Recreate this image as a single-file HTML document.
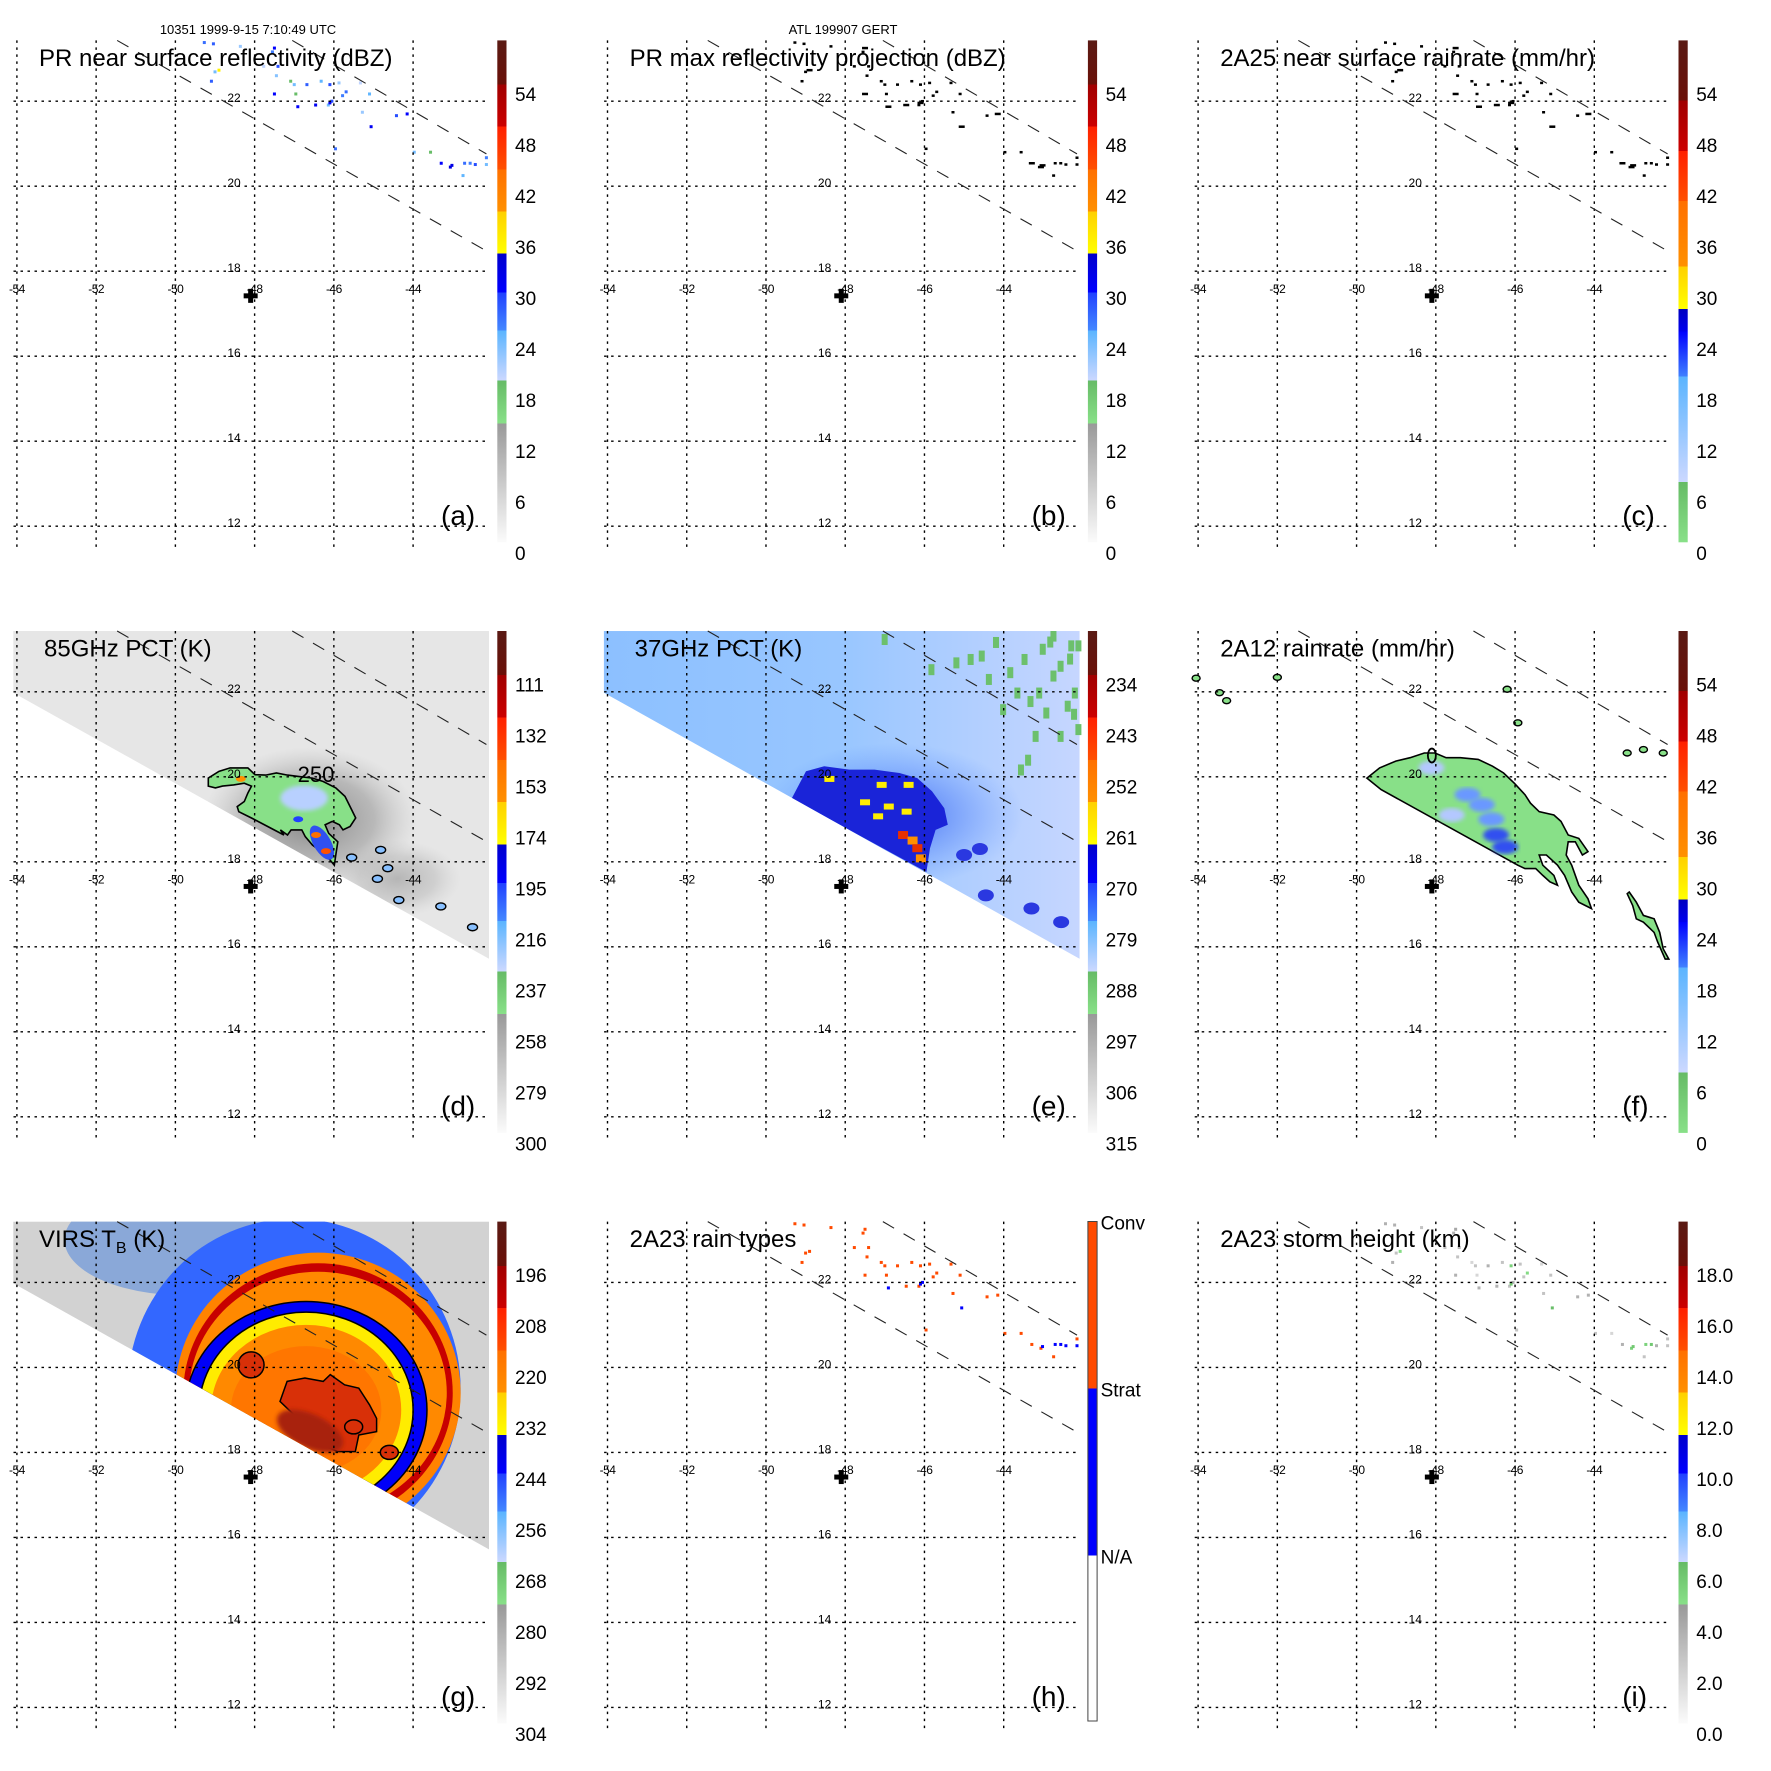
<!DOCTYPE html>
<html><head><meta charset="utf-8">
<style>
html,body{margin:0;padding:0;background:#fff;}
svg{display:block;}
text{font-family:"Liberation Sans",Arial,sans-serif;fill:#000;}
</style></head>
<body>
<svg id="fig" width="1771" height="1771" viewBox="0 0 1771 1771" xmlns="http://www.w3.org/2000/svg">
<defs>
<linearGradient id="cm1" x1="0" y1="1" x2="0" y2="0">
<stop offset="0" stop-color="#fbfbfb"/><stop offset="0.237" stop-color="#999"/>
<stop offset="0.237" stop-color="#88e088"/><stop offset="0.322" stop-color="#66bb66"/>
<stop offset="0.322" stop-color="#ccd8ff"/><stop offset="0.422" stop-color="#5ab4ff"/>
<stop offset="0.422" stop-color="#4488ff"/><stop offset="0.498" stop-color="#2040ff"/>
<stop offset="0.498" stop-color="#0000ff"/><stop offset="0.575" stop-color="#0000cc"/>
<stop offset="0.575" stop-color="#ffff00"/><stop offset="0.659" stop-color="#ffd000"/>
<stop offset="0.659" stop-color="#ff9000"/><stop offset="0.743" stop-color="#ff7000"/>
<stop offset="0.743" stop-color="#ff5000"/><stop offset="0.828" stop-color="#ff2000"/>
<stop offset="0.828" stop-color="#cc0000"/><stop offset="0.912" stop-color="#a00000"/>
<stop offset="0.912" stop-color="#6a1008"/><stop offset="1" stop-color="#5a1a14"/>
</linearGradient>
<linearGradient id="cm2" x1="0" y1="1" x2="0" y2="0">
<stop offset="0" stop-color="#88e088"/><stop offset="0.12" stop-color="#66bb66"/>
<stop offset="0.12" stop-color="#ccd8ff"/><stop offset="0.33" stop-color="#5ab4ff"/>
<stop offset="0.33" stop-color="#4080ff"/><stop offset="0.42" stop-color="#0000ff"/>
<stop offset="0.42" stop-color="#0000ee"/><stop offset="0.465" stop-color="#0000c0"/>
<stop offset="0.465" stop-color="#ffff00"/><stop offset="0.55" stop-color="#ffd000"/>
<stop offset="0.55" stop-color="#ff9000"/><stop offset="0.68" stop-color="#ff7000"/>
<stop offset="0.68" stop-color="#ff5000"/><stop offset="0.78" stop-color="#ff2000"/>
<stop offset="0.78" stop-color="#cc0000"/><stop offset="0.88" stop-color="#a00000"/>
<stop offset="0.88" stop-color="#6a1008"/><stop offset="1" stop-color="#5a1a14"/>
</linearGradient>
<linearGradient id="eback" x1="0" y1="0" x2="1" y2="0">
<stop offset="0" stop-color="#8cc0ff"/><stop offset="0.5" stop-color="#98c6ff"/><stop offset="1" stop-color="#c6d6ff"/>
</linearGradient>
<radialGradient id="dshade"><stop offset="0" stop-color="#7a7a7a" stop-opacity="0.9"/><stop offset="0.6" stop-color="#9a9a9a" stop-opacity="0.6"/><stop offset="1" stop-color="#bbb" stop-opacity="0"/></radialGradient>
<radialGradient id="ering"><stop offset="0" stop-color="#3a60f0" stop-opacity="0.9"/><stop offset="1" stop-color="#5a90ff" stop-opacity="0"/></radialGradient>
<filter id="blur2"><feGaussianBlur stdDeviation="2"/></filter>
</defs>
</svg>
<script>
// ---------- data ----------
const gridLons=[-54,-52,-50,-48,-46,-44];
const gridLats=[22,20,18,16,14,12];
const swath1Lon=[-47.05,-42.15], swath1Lat=[23.43,20.76];
const swath2Lon=[-51.47,-42.10], swath2Lat=[23.43,18.45];
const centerLon=-48.10, centerLat=17.42;
// PR echoes
const echoLon=[-49.27,-49.04,-48.36,-47.50,-47.55,-49.0,-49.09,-48.9,-47.77,-47.41,-47.45,-47.09,-47.0,-46.68,-46.32,-46.1,-45.87,-47.5,-46.96,-45.78,-45.69,-46.14,-46.46,-45.33,-45.1,-45.28,-44.42,-44.15,-45.96,-43.97,-43.56,-43.29,-43.06,-42.74,-42.15,-46.05,-46.1,-46.91,-45.06,-43.02,-42.7,-42.56,-42.43,-42.15];
const echoLat=[23.38,23.35,23.29,23.25,23.16,22.69,22.47,22.73,22.82,22.82,22.6,22.47,22.39,22.39,22.47,22.39,22.43,22.17,22.17,22.13,22.22,21.91,21.91,22.43,22.17,21.74,21.66,21.7,20.88,20.8,20.8,20.54,20.45,20.25,20.67,22.0,21.96,21.87,21.4,20.49,20.54,20.54,20.51,20.51];
const echoDbz=[27,28,22,30,26,24,28,36,20,29,23,19,24,28,25,29,22,30,19,26,27,24,31,20,25,22,29,30,27,24,19,30,33,25,26,29,31,30,31,32,27,26,29,24];
const echoType=['C','C','C','C','C','C','C','C','C','C','C','C','C','C','C','C','C','C','C','C','C','C','C','C','C','C','C','C','C','C','C','C','C','C','C','S','S','S','S','S','S','S','S','S'];
const echoHeight=[4,4,3,4.5,4,3,4,5.5,3,4,3,2,3,4,3,6,3,4,2,3,5.5,3,4,2,3,3,4,4,3,3,2,4,6,3,3,4,6.5,4,7,6.5,6,6.5,4,3];
// swath edge of passive microwave / VIRS image
const edgeLon=[-54.09,-42.03], edgeLat=[21.98,15.69];
const topLat=23.43;
// 85 GHz storm outline
const d85Lon=[-49.17,-48.90,-48.62,-48.17,-47.99,-47.72,-47.45,-47.17,-46.90,-46.54,-46.27,-45.95,-45.72,-45.59,-45.45,-45.59,-45.77,-45.86,-46.04,-46.22,-46.13,-45.90,-45.95,-45.99,-46.13,-46.31,-46.54,-46.72,-46.81,-47.08,-47.17,-47.35,-47.26,-48.08,-48.40,-48.44,-48.26,-48.17,-48.08,-48.26,-48.53,-48.81,-48.99,-49.17];
const d85Lat=[19.97,20.13,20.21,20.21,20.05,20.04,20.09,20.04,20.01,19.97,19.89,19.74,19.54,19.30,19.03,18.83,18.75,18.87,18.95,18.87,18.67,18.47,18.16,17.92,18.08,18.24,18.39,18.59,18.75,18.75,18.63,18.75,18.63,19.03,19.18,19.30,19.42,19.62,19.78,19.85,19.81,19.78,19.74,19.78];
const d85SpotLon=[-44.82,-44.64,-44.36,-42.5,-45.55,-44.9,-43.3];
const d85SpotLat=[18.28,17.85,17.1,16.46,18.1,17.6,16.95];
const d85Label='250';
// 37 GHz depression
const e37Lon=[-49.35,-48.99,-48.53,-47.90,-47.26,-46.63,-46.18,-45.81,-45.50,-45.41,-45.72,-45.86,-45.95];
const e37Lat=[19.49,20.13,20.25,20.17,20.17,20.09,19.97,19.66,19.26,18.87,18.75,18.32,17.76];
const e37YelLon=[-47.08,-46.90,-46.45,-47.17,-46.40,-48.4,-47.5];
const e37YelLat=[19.81,19.30,19.18,19.07,19.81,19.95,19.4];
const e37HotLon=[-46.54,-46.30,-46.18,-46.09];
const e37HotLat=[18.63,18.5,18.32,18.08];
const e37BlobLon=[-44.45,-42.55,-45.0,-44.6,-43.3];
const e37BlobLat=[17.21,16.58,18.16,18.3,16.9];
const e37GreenLon=[-44.63,-44.27,-43.91,-43.55,-43.09,-42.82,-42.64,-42.37,-42.28,-43.0,-43.27,-43.46,-43.64,-42.46,-42.19,-44.45,-44.91,-45.27,-45.9,-43.73,-44.09,-42.82,-42.19,-43.18,-42.64,-47.08,-42.4,-43.4,-42.9,-42.3];
const e37GreenLat=[22.97,23.29,22.58,22.89,23.13,22.5,22.73,23.21,22.1,21.63,21.08,20.52,20.29,21.79,21.24,22.42,22.89,22.81,22.65,22.1,21.71,23.44,23.21,22.1,21.08,23.36,22.9,21.9,23.3,21.6];
// 2A12 rain outline
const f12Lon=[-49.74,-49.42,-49.01,-48.65,-48.29,-48.02,-47.74,-47.38,-46.93,-46.57,-46.29,-46.02,-45.75,-45.61,-45.39,-45.02,-44.84,-44.66,-44.39,-44.16,-44.30,-44.48,-44.66,-44.71,-44.57,-44.39,-44.16,-44.07,-44.39,-44.57,-44.75,-44.93,-45.21,-45.39,-45.30,-45.02,-44.93,-45.12,-45.30,-45.48,-45.75,-45.93,-49.38];
const f12Lat=[19.97,20.21,20.37,20.45,20.56,20.56,20.45,20.45,20.41,20.25,20.09,19.85,19.58,19.38,19.18,19.10,18.95,18.63,18.55,18.24,18.16,18.47,18.47,18.16,17.92,17.45,17.13,16.90,17.05,17.29,17.68,17.92,18.16,18.16,17.92,17.68,17.45,17.53,17.68,17.84,17.84,17.92,19.70];
const f12bLon=[-43.12,-42.94,-42.76,-42.49,-42.35,-42.26,-42.12,-42.21,-42.40,-42.49,-42.76,-42.94,-43.03,-43.17];
const f12bLat=[17.29,17.05,16.74,16.66,16.34,15.95,15.71,15.71,16.11,16.34,16.58,16.66,16.97,17.25];
const f12SpotLon=[-53.46,-53.28,-52.0,-54.05,-46.2,-45.93,-42.76,-42.26,-43.17];
const f12SpotLat=[21.98,21.79,22.34,22.32,22.06,21.27,20.64,20.56,20.56];
const f12RainLon=[-46.84,-46.48,-46.25,-48.11,-47.2,-47.6,-46.6];
const f12RainLat=[19.34,18.63,18.35,20.21,19.58,19.1,19.0];
const f12RainVal=[16,22,18,10,12,11,14];
// VIRS IR rings (centres, radii in degrees, Tb)
const irCx=[-47.0,-46.4,-46.4,-46.4,-46.7,-46.7,-46.7,-46.7];
const irCy=[19.5,19.4,19.4,19.4,19.0,19.0,19.0,19.0];
const irRx=[4.2,3.6,3.4,3.25,3.05,2.7,2.4,1.9];
const irRy=[4.0,3.3,3.05,2.85,2.55,2.3,2.0,1.5];
const irTb=[250,222,205,224,244,232,224,218];
const irCoreLon=[-47.18,-46.73,-46.27,-46.09,-45.73,-45.37,-45.10,-44.92,-44.92,-45.37,-45.46,-45.91,-46.27,-47.0,-47.36];
const irCoreLat=[19.67,19.75,19.67,19.83,19.59,19.51,19.12,18.80,18.49,18.41,18.02,18.02,18.17,18.88,19.2];
const irBlobLon=[-48.09,-44.6,-45.5];
const irBlobLat=[20.06,18.0,18.6];
// colour bar labels
const cbA=['0','6','12','18','24','30','36','42','48','54'];
const cbD=['300','279','258','237','216','195','174','153','132','111'];
const cbE=['315','306','297','288','279','270','261','252','243','234'];
const cbG=['304','292','280','268','256','244','232','220','208','196'];
const cbI=['0.0','2.0','4.0','6.0','8.0','10.0','12.0','14.0','16.0','18.0'];
const cbH=['Conv','Strat','N/A'];
const titles=['PR near surface reflectivity (dBZ)','PR max reflectivity projection (dBZ)','2A25 near surface rainrate (mm/hr)','85GHz PCT (K)','37GHz PCT (K)','2A12 rainrate (mm/hr)','VIRS T','2A23 rain types','2A23 storm height (km)'];
const letters=['(a)','(b)','(c)','(d)','(e)','(f)','(g)','(h)','(i)'];

// ---------- helpers ----------
const NS='http://www.w3.org/2000/svg';
const svg=document.getElementById('fig');
const S=590.6;
function el(tag,attrs,parent){const e=document.createElementNS(NS,tag);for(const k in attrs)e.setAttribute(k,attrs[k]);(parent||svg).appendChild(e);return e;}
function X(p,lon){return p.c*S+16.9+(lon+54)*39.62;}
function Y(p,lat){return p.r*S+101.2+(22-lat)*42.5;}
function pts(p,lons,lats){return lons.map((l,i)=>X(p,l).toFixed(1)+','+Y(p,lats[i]).toFixed(1)).join(' ');}
const seg1=[[0,'#fbfbfb','#999999'],[0.237,'#88e088','#66bb66'],[0.322,'#ccd8ff','#5ab4ff'],[0.422,'#4488ff','#2040ff'],[0.498,'#0000ff','#0000cc'],[0.575,'#ffff00','#ffd000'],[0.659,'#ff9000','#ff7000'],[0.743,'#ff5000','#ff2000'],[0.828,'#cc0000','#a00000'],[0.912,'#6a1008','#5a1a14'],[1]];
function hex(c){return [1,3,5].map(i=>parseInt(c.substr(i,2),16));}
function cmap(f){f=Math.max(0,Math.min(0.999,f));for(let i=0;i<seg1.length-1;i++){if(f<seg1[i+1][0]){const t=(f-seg1[i][0])/(seg1[i+1][0]-seg1[i][0]);const a=hex(seg1[i][1]),b=hex(seg1[i][2]);return 'rgb('+a.map((v,j)=>Math.round(v+(b[j]-v)*t)).join(',')+')';}}return '#5a1a14';}
function tbColor(tb){return cmap((304-tb)/12*0.1016);}
function rainColor(v){return v<12?'#b4c8ff':v<18?'#6a98ff':'#3050f0';}

const panels=[];
for(let i=0;i<9;i++)panels.push({i:i,r:Math.floor(i/3),c:i%3});

function clipFor(p,name){
  const cp=el('clipPath',{id:'clip'+p.i},svg.querySelector('defs'));
  el('polygon',{points:pts(p,[-54.09,-42.03,edgeLon[1],edgeLon[0]],[topLat,topLat,edgeLat[1],edgeLat[0]])},cp);
  const g=el('g',{'clip-path':'url(#clip'+p.i+')'});
  
  
  return g;
}

// (d) 85 GHz
(function(){const p=panels[3];const g=clipFor(p,'pct85-image');
  const bg=el('rect',{x:X(p,-54.2),y:Y(p,topLat),width:480,height:400,fill:'#e6e6e6'},g);
  
  
  const sh=el('ellipse',{cx:X(p,-46.6),cy:Y(p,19.0),rx:2.7*39.62,ry:1.7*42.5,fill:'url(#dshade)'},g);
  
  
  const sh2=el('ellipse',{cx:X(p,-44.4),cy:Y(p,17.6),rx:1.6*39.62,ry:0.9*42.5,fill:'url(#dshade)',opacity:0.5},g);
  
  
  const st=el('polygon',{points:pts(p,d85Lon,d85Lat),fill:'#88e088',stroke:'#000','stroke-width':1.6},g);
  
  
  const lb=el('ellipse',{cx:X(p,-46.75),cy:Y(p,19.5),rx:0.6*39.62,ry:0.3*42.5,fill:'#b8d0ff',filter:'url(#blur2)'},g);
  
  
  const b1=el('ellipse',{cx:X(p,-46.3),cy:Y(p,18.45),rx:0.22*39.62,ry:0.45*42.5,fill:'#3050f0',transform:'rotate(-30 '+X(p,-46.3)+' '+Y(p,18.45)+')'},g);
  
  
  [[-46.45,18.63,'#ff7000'],[-46.2,18.25,'#ff5000'],[-46.9,19.0,'#2040ff'],[-48.35,19.95,'#ff9000']].forEach(v=>{
    const e=el('ellipse',{cx:X(p,v[0]),cy:Y(p,v[1]),rx:5,ry:3,fill:v[2]},g);
    
    });
  d85SpotLon.forEach((l,i)=>{const e=el('ellipse',{cx:X(p,l),cy:Y(p,d85SpotLat[i]),rx:5,ry:3.5,fill:'#88c0ff',stroke:'#000','stroke-width':1.4},g);
    
    });
  const t=el('text',{x:X(p,-46.45),y:Y(p,20.07)+8,'font-size':22,'text-anchor':'middle'});t.textContent=d85Label;
  
  
})();
// (e) 37 GHz
(function(){const p=panels[4];const g=clipFor(p,'pct37-image');
  const bg=el('rect',{x:X(p,-54.2),y:Y(p,topLat),width:480,height:400,fill:'url(#eback)'},g);
  
  
  e37GreenLon.forEach((l,i)=>{const r=el('rect',{x:X(p,l),y:Y(p,e37GreenLat[i]),width:6,height:11,fill:'#6cc06c'},g);
    
    });
  const ring=el('ellipse',{cx:X(p,-46.8),cy:Y(p,19.1),rx:3.3*39.62,ry:1.7*42.5,fill:'url(#ering)'},g);
  
  
  const bl=el('polygon',{points:pts(p,e37Lon,e37Lat),fill:'#1a24d8'},g);
  
  
  e37BlobLon.forEach((l,i)=>{const e=el('ellipse',{cx:X(p,l),cy:Y(p,e37BlobLat[i]),rx:8,ry:6,fill:'#2a38e0'},g);
    
    });
  e37YelLon.forEach((l,i)=>{const r=el('rect',{x:X(p,l)-5,y:Y(p,e37YelLat[i])-3,width:10,height:6,fill:'#ffee00'},g);
    
    });
  e37HotLon.forEach((l,i)=>{const r=el('rect',{x:X(p,l)-5,y:Y(p,e37HotLat[i])-4,width:10,height:8,fill:i%2?'#ff9000':'#e83000'},g);
    
    });
})();
// (g) VIRS
(function(){const p=panels[6];const g=clipFor(p,'virs-image');
  const bg=el('rect',{x:X(p,-54.2),y:Y(p,topLat),width:480,height:400,fill:'#d2d2d2'},g);
  
  
  const tl=el('ellipse',{cx:X(p,-49.8),cy:Y(p,23.0),rx:3.0*39.62,ry:1.3*42.5,fill:'#8aa8d8'},g);
  
  
  irRx.forEach((rx,i)=>{const e=el('ellipse',{cx:X(p,irCx[i]),cy:Y(p,irCy[i]),rx:rx*39.62,ry:irRy[i]*42.5,fill:tbColor(irTb[i]),stroke:(i==4||i==5)?'#000':'none','stroke-width':1.5},g);
    
    });
  const core=el('polygon',{points:pts(p,irCoreLon,irCoreLat),fill:'#d83008',stroke:'#000','stroke-width':1.5},g);
  
  
  const cd=el('ellipse',{cx:X(p,-46.6),cy:Y(p,18.5),rx:0.9*39.62,ry:0.4*42.5,fill:'#a82010',filter:'url(#blur2)',transform:'rotate(25 '+X(p,-46.6)+' '+Y(p,18.5)+')'},g);
  
  
  irBlobLon.forEach((l,i)=>{const e=el('ellipse',{cx:X(p,l),cy:Y(p,irBlobLat[i]),rx:i?9:13,ry:i?7:13,fill:'#d83008',stroke:'#000','stroke-width':1.5},g);
    
    });
})();
// (f) 2A12
(function(){const p=panels[5];const g=el('g',{});
  
  
  const a=el('polygon',{points:pts(p,f12Lon,f12Lat),fill:'#88e088',stroke:'#000','stroke-width':1.6},g);
  
  
  const b=el('polygon',{points:pts(p,f12bLon,f12bLat),fill:'#88e088',stroke:'#000','stroke-width':1.6},g);
  
  
  f12RainLon.forEach((l,i)=>{const e=el('ellipse',{cx:X(p,l),cy:Y(p,f12RainLat[i]),rx:13,ry:7,fill:rainColor(f12RainVal[i]),filter:'url(#blur2)'},g);
    
    });
  f12SpotLon.forEach((l,i)=>{const e=el('ellipse',{cx:X(p,l),cy:Y(p,f12SpotLat[i]),rx:4,ry:3,fill:'#88e088',stroke:'#000','stroke-width':1.4},g);
    
    });
  const o=el('ellipse',{cx:X(p,-48.1),cy:Y(p,20.5),rx:4,ry:7,fill:'none',stroke:'#000','stroke-width':1.8},g);
  
  
})();
// PR dot panels a,b,c,h,i
[0,1,2,7,8].forEach(k=>{const p=panels[k];const g=el('g',{});
  
  
  echoLon.forEach((l,i)=>{let col,w=3,h=3;
    if(k==0)col=cmap(echoDbz[i]/60);
    else if(k==1||k==2){col='#000';w=echoDbz[i]>29?6:3;h=2.5;}
    else if(k==7){col=echoType[i]=='C'?'#ff4a00':'#0000ff';w=3;h=3;}
    else col=cmap(echoHeight[i]/20*0.9);
    const r=el('rect',{x:X(p,l)-w/2,y:Y(p,echoLat[i])-h/2,width:w,height:h,fill:col},g);
    
    });
});

// ---------- grids, swath lines, labels ----------
panels.forEach(p=>{const ox=p.c*S, oy=p.r*S;const L='abcdefghi'[p.i];
  const g=el('g',{});
  
  
  gridLons.forEach(l=>{const ln=el('line',{x1:X(p,l),x2:X(p,l),y1:oy+40.4,y2:oy+550,stroke:'#000','stroke-width':1.4,'stroke-dasharray':'2.5,4.5'},g);
    
    
    const t=el('text',{x:X(p,l),y:oy+293,'font-size':12,'text-anchor':'middle','letter-spacing':'-0.5'});t.textContent=String(l);
    
    });
  gridLats.forEach(l=>{const ln=el('line',{x1:ox+13.5,x2:ox+489,y1:Y(p,l),y2:Y(p,l),stroke:'#000','stroke-width':1.4,'stroke-dasharray':'2.5,4.5'},g);
    
    
    const t=el('text',{x:ox+234,y:Y(p,l)+1,'font-size':12,'text-anchor':'middle'});t.textContent=String(l);
    
    });
  [[swath1Lon,swath1Lat],[swath2Lon,swath2Lat]].forEach(s=>{const ln=el('line',{x1:X(p,s[0][0]),y1:Y(p,s[1][0]),x2:X(p,s[0][1]),y2:Y(p,s[1][1]),stroke:'#222','stroke-width':1.1,'stroke-dasharray':'13,11'});
    
    });
  const cx=X(p,centerLon), cy=Y(p,centerLat);
  const c1=el('rect',{x:cx-7,y:cy-2.5,width:14,height:5,fill:'#000'});
  
  
  const c2=el('rect',{x:cx-2.5,y:cy-7,width:5,height:14,fill:'#000'});
  
  
  const tt=el('text',{x:ox+((p.i==3||p.i==4)?44:39),y:oy+66,'font-size':24});tt.textContent=titles[p.i];
  if(p.i==6){const sb=el('tspan',{'font-size':16,dy:6},tt);sb.textContent='B';const s2=el('tspan',{dy:-6},tt);s2.textContent=' (K)';}
  
  
  const lt=el('text',{x:ox+441,y:oy+525,'font-size':28});lt.textContent=letters[p.i];
  
  
  if(p.i==7){
    const segs=[[40.3,207.3,'#ff4a00'],[207.3,374.3,'#0000ff'],[374.3,539.8,'#ffffff']];
    segs.forEach(s=>{const r=el('rect',{x:ox+497.3,y:oy+s[0],width:9.2,height:s[1]-s[0],fill:s[2]});
      
      });
    const fr=el('rect',{x:ox+497.3,y:oy+40.3,width:9.2,height:499.5,fill:'none',stroke:'#444','stroke-width':1});
    
    
    [40.3,207.3,374.3].forEach((yy,i)=>{const t=el('text',{x:ox+510,y:oy+yy+8,'font-size':19});t.textContent=cbH[i];
      
      });
  } else {
    const grad=(p.i==2||p.i==5)?'cm2':'cm1';
    const r=el('rect',{x:ox+497.3,y:oy+40.4,width:9.2,height:501.9,fill:'url(#'+grad+')'});
    
    
    const labs=p.i==3?cbD:p.i==4?cbE:p.i==6?cbG:p.i==8?cbI:cbA;
    labs.forEach((s,i)=>{const yc=oy+553-i*51;
      const t=el('text',{x:ox+515,y:yc+7,'font-size':19});t.textContent=s;
      
      });
  }
});
const t1=el('text',{x:248,y:34,'font-size':13,'text-anchor':'middle'});t1.textContent='10351 1999-9-15 7:10:49 UTC';


const t2=el('text',{x:843,y:34,'font-size':13,'text-anchor':'middle'});t2.textContent='ATL 199907 GERT';


</script>
</body></html>
